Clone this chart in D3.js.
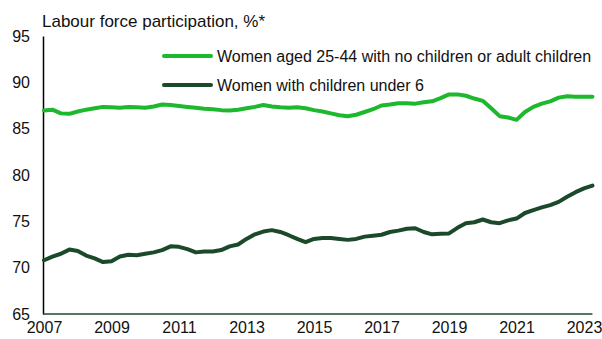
<!DOCTYPE html>
<html><head><meta charset="utf-8">
<script src="https://cdn.jsdelivr.net/npm/d3@7"></script>
<style>body{margin:0;background:#fff;} svg{display:block;font-family:"Liberation Sans",Arial,sans-serif;}</style>
</head><body>
<script>
// quarterly observations, decimal years
const dates = d3.range(0, 66).map(i => 2007 + i * 0.25);
const noChildren = [86.95,87.05,86.65,86.6,86.85,87.05,87.2,87.35,87.3,87.25,87.35,87.3,87.25,87.4,87.6,87.55,
87.45,87.35,87.25,87.15,87.1,87.0,86.95,87.05,87.2,87.35,87.55,87.4,87.3,87.25,87.3,87.2,
87.0,86.85,86.65,86.45,86.35,86.5,86.8,87.1,87.5,87.6,87.75,87.75,87.7,87.85,87.95,88.3,
88.7,88.7,88.55,88.25,88.0,87.2,86.35,86.2,85.95,86.8,87.35,87.7,87.95,88.35,88.5,88.45,88.45,88.45];
const under6 = [70.8,71.2,71.5,71.95,71.8,71.3,71.0,70.6,70.7,71.2,71.4,71.35,71.5,71.65,71.9,72.3,
72.25,72.0,71.65,71.75,71.75,71.9,72.3,72.5,73.1,73.6,73.9,74.05,73.85,73.5,73.1,72.75,
73.1,73.2,73.2,73.1,73.0,73.1,73.35,73.45,73.55,73.85,74.0,74.2,74.25,73.85,73.6,73.65,
73.7,74.3,74.8,74.9,75.2,74.9,74.8,75.1,75.3,75.9,76.2,76.5,76.75,77.1,77.65,78.15,78.55,78.85];
const yTicks = [65,70,75,80,85,90,95];
const xTicks = [2007,2009,2011,2013,2015,2017,2019,2021,2023];
const seriesNames = ["Women aged 25-44 with no children or adult children","Women with children under 6"];
const colors = ["#1db82d","#1b4a2a"];
const title = "Labour force participation, %*";

const W = 602, H = 339;
const svg = d3.select("body").append("svg").attr("width", W).attr("height", H);
const x = d3.scaleLinear().domain([2007, 2023]).range([44, 584]);
const y = d3.scaleLinear().domain([65, 95]).range([314, 36]);

svg.append("text").attr("x", 42).attr("y", 27).attr("font-size", 17).attr("fill", "#111").text(title);

// y axis
const ya = svg.append("g").attr("transform", "translate(43,0)")
  .call(d3.axisLeft(y).tickValues(yTicks).tickSize(0).tickPadding(13));
ya.select(".domain").attr("stroke", "#000").attr("stroke-width", 1.5);
ya.selectAll("text").attr("font-size", 16).attr("fill", "#111").style("font-family", "Liberation Sans, Arial, sans-serif");

// x axis
const xEnd = dates[dates.length - 1];
const xa = svg.append("g").attr("transform", "translate(0,314)")
  .call(d3.axisBottom(x).tickValues(xTicks).tickFormat(d3.format("d")).tickSize(0).tickPadding(8));
xa.select(".domain").remove();
xa.append("line").attr("x1", 43).attr("x2", x(xEnd)).attr("stroke", colors[1]).attr("stroke-width", 1.5);
xa.selectAll("text").attr("font-size", 16).attr("fill", "#111").style("font-family", "Liberation Sans, Arial, sans-serif");

const line = d3.line().x((d, i) => x(dates[i])).y(d => y(d));
[noChildren, under6].forEach((s, k) => {
  svg.append("path").attr("d", line(s)).attr("fill", "none").attr("stroke", colors[k])
    .attr("stroke-width", 4).attr("stroke-linejoin", "round").attr("stroke-linecap", "round");
});

// legend
seriesNames.forEach((n, k) => {
  const ly = 56 + k * 29;
  svg.append("line").attr("x1", 164).attr("x2", 211).attr("y1", ly).attr("y2", ly)
    .attr("stroke", colors[k]).attr("stroke-width", 4).attr("stroke-linecap", "round");
  svg.append("text").attr("x", 217).attr("y", ly + 6).attr("font-size", 16).attr("fill", "#111").text(n);
});
</script>
</body></html>
